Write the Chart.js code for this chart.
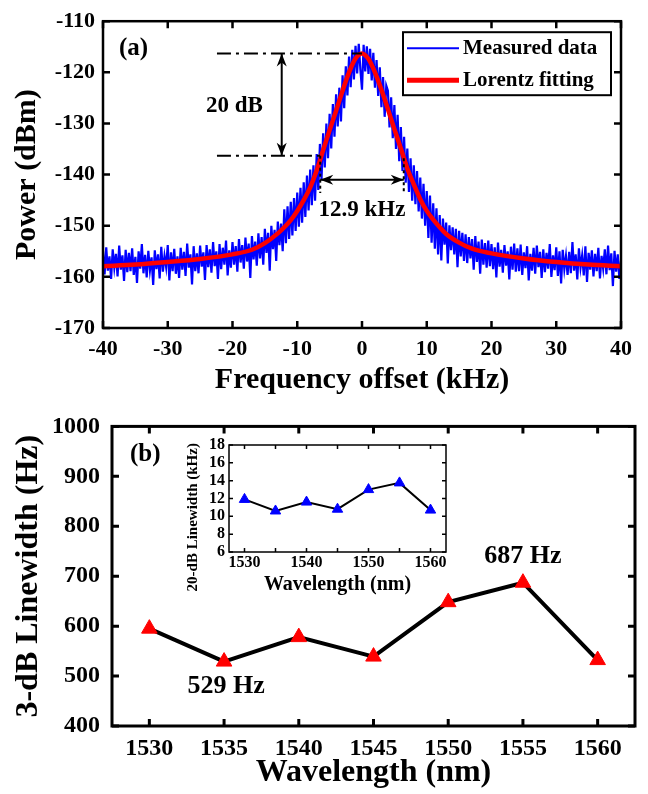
<!DOCTYPE html>
<html>
<head>
<meta charset="utf-8">
<script src="https://cdn.jsdelivr.net/npm/chart.js@4.4.0/dist/chart.umd.min.js"></script>
<style>
  html, body { margin: 0; padding: 0; background: #fff; }
  #wrap { position: relative; width: 648px; height: 794px; overflow: hidden; background: #fff; }
  canvas { position: absolute; }
  #specChart { left: 0; top: 0; }
  #lwChart { left: 0; top: 400px; }
  #insetChart { left: 170px; top: 430px; }
</style>
</head>
<body>
<div id="wrap">
  <canvas id="specChart" width="648" height="400"></canvas>
  <canvas id="lwChart" width="648" height="394"></canvas>
  <canvas id="insetChart" width="290" height="170"></canvas>
</div>
<script>
// ---- (a) beat-note spectrum ----
// measured trace, sampled every 0.25 kHz from -40 kHz (values read off the plot)
const measuredStart = -40;
const measuredStep = 0.25;
const measuredPower = [
  -155.0, -159.5, -154.2, -158.8, -156.0, -160.4, -154.6, -158.2, -155.5, -159.9, -153.9, -158.6, -155.8, -160.8, -154.7, -159.1,
  -155.3, -158.9, -154.4, -159.6, -156.1, -161.2, -155.0, -158.4, -153.6, -159.3, -155.7, -160.1, -154.9, -158.7, -156.2, -161.6,
  -154.8, -158.5, -155.6, -160.3, -154.1, -159.0, -155.9, -158.1, -153.8, -160.7, -155.2, -158.9, -154.5, -159.4, -156.0, -160.2,
  -154.3, -158.6, -155.1, -159.8, -153.5, -158.2, -155.6, -161.5, -154.0, -158.9, -155.4, -159.3, -153.9, -158.0, -155.2, -160.6,
  -153.8, -158.1, -154.6, -159.2, -153.2, -157.9, -155.0, -160.4, -153.6, -158.5, -154.3, -157.6, -152.9, -159.7, -154.8, -158.2,
  -153.2, -157.6, -154.0, -159.0, -152.6, -157.2, -153.8, -158.4, -152.3, -157.0, -153.5, -160.2, -152.0, -156.6, -153.1, -157.8,
  -151.5, -156.4, -152.2, -157.6, -150.6, -155.3, -151.4, -158.8, -150.0, -154.6, -150.8, -156.9, -149.2, -153.8, -149.6, -155.0,
  -146.8, -153.4, -146.2, -152.6, -145.3, -151.9, -144.6, -151.0, -143.5, -150.2, -142.6, -149.4, -141.5, -148.3, -140.2, -147.0,
  -139.0, -146.0, -138.2, -145.1, -136.0, -143.0, -134.0, -140.9, -131.9, -138.6, -130.0, -136.8, -128.1, -134.9, -126.2, -132.6,
  -124.3, -130.6, -123.0, -129.6, -120.6, -127.0, -118.8, -124.5, -116.9, -122.9, -115.6, -121.4, -114.8, -120.2, -114.4, -119.5,
  -123.4, -114.6, -119.8, -114.9, -120.3, -115.4, -121.6, -116.2, -123.0, -117.6, -124.6, -119.0, -126.8, -120.9, -128.7, -122.6,
  -123.6, -130.8, -124.9, -132.9, -126.4, -135.0, -128.3, -137.4, -130.7, -139.3, -132.6, -141.6, -134.9, -143.4, -136.8, -145.1,
  -138.2, -145.8, -139.3, -147.2, -140.6, -148.6, -141.8, -150.0, -143.2, -152.4, -144.1, -153.3, -145.6, -154.5, -146.6, -155.6,
  -147.9, -156.8, -148.6, -153.7, -149.4, -157.4, -149.9, -154.8, -150.3, -155.6, -150.6, -158.1, -151.0, -156.0, -151.4, -156.9,
  -151.7, -157.3, -152.2, -156.4, -152.6, -158.6, -152.0, -157.1, -153.1, -159.4, -152.7, -157.6, -153.4, -158.2, -152.9, -157.9,
  -153.6, -158.5, -154.2, -160.1, -153.3, -158.0, -154.7, -159.2, -153.8, -157.8, -155.0, -160.5, -154.1, -158.6, -153.5, -159.0,
  -154.4, -158.9, -153.7, -159.6, -155.2, -158.3, -154.0, -160.7, -155.5, -158.8, -154.3, -159.4, -153.9, -158.1, -155.1, -160.2,
  -154.6, -159.1, -155.3, -158.4, -153.6, -160.0, -155.8, -158.7, -154.2, -159.8, -155.0, -161.3, -154.7, -158.5, -155.9, -159.6,
  -155.1, -159.3, -153.2, -158.8, -155.6, -160.5, -154.4, -158.2, -155.8, -159.7, -154.0, -161.0, -155.3, -158.6, -154.8, -159.9,
  -155.5, -158.9, -154.3, -160.3, -155.9, -158.4, -154.6, -159.5, -153.9, -158.7, -155.4, -161.8, -154.9, -159.0, -155.6, -160.4,
  -156.8
];
// Lorentz fitting curve
const fitFreq = [-40, -35, -30, -25, -20, -17, -15, -13, -12, -11, -10, -9, -8, -7, -6, -5, -4, -3, -2, -1, 0,
                 1, 2, 3, 4, 5, 6, 7, 8, 9, 10, 11, 12, 13, 15, 17, 20, 25, 30, 35, 40];
const fitPower = [-157.9, -157.6, -157.1, -156.5, -155.6, -154.7, -153.4, -151.5, -150.3, -148.9, -147.1, -145.0, -142.5, -139.2, -135.2, -131.3, -127.5, -123.6, -120.0, -117.3, -116.3,
                  -117.4, -120.0, -123.4, -127.2, -131.1, -134.9, -138.8, -141.9, -144.8, -147.1, -148.8, -150.3, -151.6, -153.3, -154.5, -155.4, -156.4, -157.1, -157.6, -157.9];
// 20 dB marker
const peakLevel = -116.3;
const level20 = -136.3;
const halfWidth20 = 6.45;

// ---- (b) linewidth vs wavelength ----
const wavelengths = ['1530', '1535', '1540', '1545', '1550', '1555', '1560'];
const linewidth3dB = [595, 529, 578, 539, 648, 687, 532];
const linewidth20dB = [11.9, 10.6, 11.6, 10.8, 13.0, 13.75, 10.7];

const serif = '"Liberation Serif", "Times New Roman", serif';
Chart.defaults.font.family = serif;
Chart.defaults.font.weight = 'bold';
Chart.defaults.color = '#000';

// box around plot area + inward ticks on all four sides
const framePlugin = {
  id: 'frame',
  afterDatasetsDraw(chart, args, opts) {
    const { ctx, chartArea: a } = chart;
    const xs = chart.scales.x, ys = chart.scales.y;
    ctx.save();
    ctx.strokeStyle = '#000';
    ctx.lineWidth = opts.tickWidth;
    ctx.beginPath();
    xs.ticks.forEach((t, i) => {
      const px = xs.getPixelForTick(i);
      ctx.moveTo(px, a.bottom); ctx.lineTo(px, a.bottom - opts.tickLen);
      ctx.moveTo(px, a.top); ctx.lineTo(px, a.top + opts.tickLen);
    });
    ys.ticks.forEach((t, i) => {
      const py = ys.getPixelForTick(i);
      ctx.moveTo(a.left, py); ctx.lineTo(a.left + opts.tickLen, py);
      ctx.moveTo(a.right, py); ctx.lineTo(a.right - opts.tickLen, py);
    });
    ctx.stroke();
    ctx.lineWidth = opts.borderWidth;
    ctx.strokeRect(a.left, a.top, a.right - a.left, a.bottom - a.top);
    ctx.restore();
  }
};

function segment(ctx, x0, y0, x1, y1) {
  ctx.beginPath();
  ctx.moveTo(x0, y0);
  ctx.lineTo(x1, y1);
  ctx.stroke();
}

function arrowHead(ctx, x0, y0, x1, y1) {
  const len = 13, half = 5;
  const ang = Math.atan2(y1 - y0, x1 - x0);
  const c = Math.cos(ang), s = Math.sin(ang);
  ctx.beginPath();
  ctx.moveTo(x1, y1);
  ctx.lineTo(x1 - len * c + half * s, y1 - len * s - half * c);
  ctx.lineTo(x1 - len * 0.7 * c, y1 - len * 0.7 * s);
  ctx.lineTo(x1 - len * c - half * s, y1 - len * s + half * c);
  ctx.closePath();
  ctx.fill();
}

function doubleArrow(ctx, x0, y0, x1, y1) {
  segment(ctx, x0, y0, x1, y1);
  arrowHead(ctx, x0, y0, x1, y1);
  arrowHead(ctx, x1, y1, x0, y0);
}

// annotations and legend of panel (a)
const specNotes = {
  id: 'specNotes',
  afterDatasetsDraw(chart) {
    const { ctx, chartArea: a } = chart;
    const x = v => chart.scales.x.getPixelForValue(v);
    const y = v => chart.scales.y.getPixelForValue(v);
    ctx.save();
    ctx.strokeStyle = '#000';
    ctx.fillStyle = '#000';
    ctx.lineWidth = 2;

    ctx.setLineDash([14, 5, 3, 5]);
    segment(ctx, x(-22.4), y(peakLevel), x(0), y(peakLevel));
    segment(ctx, x(-22.4), y(level20), x(-halfWidth20), y(level20));
    ctx.setLineDash([3, 3]);
    segment(ctx, x(-halfWidth20), y(level20), x(-halfWidth20), y(-143.6));
    segment(ctx, x(halfWidth20), y(level20 - 0.5), x(halfWidth20), y(-143.6));
    ctx.setLineDash([]);

    doubleArrow(ctx, x(-12.4), y(peakLevel), x(-12.4), y(level20));
    doubleArrow(ctx, x(-halfWidth20), y(-141), x(halfWidth20), y(-141));

    ctx.textAlign = 'center';
    ctx.textBaseline = 'middle';
    ctx.font = 'bold 23px ' + serif;
    ctx.fillText('20 dB', x(-19.7), y(-126.6));
    ctx.fillText('12.9 kHz', x(0), y(-146.9));
    ctx.font = 'bold 25px ' + serif;
    ctx.textAlign = 'left';
    ctx.fillText('(a)', a.left + 16, a.top + 27);

    // legend box
    const bx = a.right - 218, by = a.top + 11, bw = 208, bh = 63;
    ctx.fillStyle = '#fff';
    ctx.fillRect(bx, by, bw, bh);
    ctx.lineWidth = 2;
    ctx.strokeRect(bx, by, bw, bh);
    ctx.lineWidth = 2;
    ctx.strokeStyle = '#0000ff';
    segment(ctx, bx + 4, by + 16, bx + 56, by + 16);
    ctx.lineWidth = 5;
    ctx.strokeStyle = '#ff0000';
    segment(ctx, bx + 4, by + 48, bx + 56, by + 48);
    ctx.fillStyle = '#000';
    ctx.font = 'bold 21px ' + serif;
    ctx.fillText('Measured data', bx + 60, by + 16);
    ctx.fillText('Lorentz fitting', bx + 60, by + 48);
    ctx.restore();
  }
};

// value labels of panel (b)
const lwNotes = {
  id: 'lwNotes',
  afterDatasetsDraw(chart) {
    const { ctx, chartArea: a } = chart;
    const pts = chart.getDatasetMeta(0).data;
    const iMin = linewidth3dB.indexOf(Math.min(...linewidth3dB));
    const iMax = linewidth3dB.indexOf(Math.max(...linewidth3dB));
    ctx.save();
    ctx.fillStyle = '#000';
    ctx.textAlign = 'center';
    ctx.textBaseline = 'middle';
    ctx.font = 'bold 26px ' + serif;
    ctx.fillText(linewidth3dB[iMin] + ' Hz', pts[iMin].x + 2, pts[iMin].y + 25);
    ctx.fillText(linewidth3dB[iMax] + ' Hz', pts[iMax].x, pts[iMax].y - 26);
    ctx.font = 'bold 25px ' + serif;
    ctx.textAlign = 'left';
    ctx.fillText('(b)', a.left + 18, a.top + 28);
    ctx.restore();
  }
};

const measuredPoints = measuredPower.map((p, i) => ({ x: measuredStart + i * measuredStep, y: p }));
const fitPoints = fitFreq.map((f, i) => ({ x: f, y: fitPower[i] }));

new Chart(document.getElementById('specChart'), {
  type: 'line',
  data: {
    datasets: [
      {
        label: 'Lorentz fitting',
        data: fitPoints,
        borderColor: '#ff0000',
        borderWidth: 4.5,
        pointRadius: 0,
        cubicInterpolationMode: 'monotone',
        order: 0
      },
      {
        label: 'Measured data',
        data: measuredPoints,
        borderColor: '#0000ff',
        borderWidth: 2.2,
        pointRadius: 0,
        tension: 0,
        order: 1
      }
    ]
  },
  options: {
    responsive: false,
    animation: false,
    devicePixelRatio: 1,
    layout: { padding: { top: 18, right: 27, left: 0, bottom: 0 } },
    plugins: {
      legend: { display: false },
      tooltip: { enabled: false },
      frame: { tickLen: 7, tickWidth: 2.5, borderWidth: 2.5 }
    },
    scales: {
      x: {
        type: 'linear',
        min: -40,
        max: 40,
        grid: { display: false, drawTicks: false },
        border: { display: false },
        ticks: { stepSize: 10, padding: 8, font: { size: 22 }, maxRotation: 0 },
        title: { display: true, text: 'Frequency offset (kHz)', font: { size: 30 }, padding: { bottom: 2 } },
        afterFit: s => { s.height = 72; }
      },
      y: {
        min: -170,
        max: -110,
        grid: { display: false, drawTicks: false },
        border: { display: false },
        ticks: { stepSize: 10, padding: 8, font: { size: 22 } },
        title: { display: true, text: 'Power (dBm)', font: { size: 30 }, padding: { top: 9 } },
        afterFit: s => { s.width = 103; }
      }
    }
  },
  plugins: [framePlugin, specNotes]
});

new Chart(document.getElementById('lwChart'), {
  type: 'line',
  data: {
    labels: wavelengths,
    datasets: [{
      label: '3-dB linewidth',
      data: linewidth3dB,
      borderColor: '#000',
      borderWidth: 4,
      tension: 0,
      pointStyle: 'triangle',
      pointRadius: 9,
      pointBackgroundColor: '#ff0000',
      pointBorderColor: '#ff0000',
      pointBorderWidth: 1
    }]
  },
  options: {
    responsive: false,
    animation: false,
    devicePixelRatio: 1,
    layout: { padding: { top: 20, right: 13, left: 0, bottom: 0 } },
    plugins: {
      legend: { display: false },
      tooltip: { enabled: false },
      frame: { tickLen: 7, tickWidth: 3, borderWidth: 3 }
    },
    scales: {
      x: {
        type: 'category',
        offset: true,
        grid: { display: false, drawTicks: false, offset: true },
        border: { display: false },
        ticks: { padding: 8, font: { size: 24 }, maxRotation: 0, autoSkip: false },
        title: { display: true, text: 'Wavelength (nm)', font: { size: 32 }, padding: { bottom: 2 } },
        afterFit: s => { s.height = 68; }
      },
      y: {
        min: 400,
        max: 1000,
        grid: { display: false, drawTicks: false },
        border: { display: false },
        ticks: { stepSize: 100, padding: 12, font: { size: 24 }, callback: v => String(v) },
        title: { display: true, text: '3-dB Linewidth (Hz)', font: { size: 32 }, padding: { top: 10 } },
        afterFit: s => { s.width = 112; }
      }
    }
  },
  plugins: [framePlugin, lwNotes]
});

new Chart(document.getElementById('insetChart'), {
  type: 'line',
  data: {
    labels: wavelengths,
    datasets: [{
      label: '20-dB linewidth',
      data: linewidth20dB,
      borderColor: '#000',
      borderWidth: 2,
      tension: 0,
      pointStyle: 'triangle',
      pointRadius: 6,
      pointBackgroundColor: '#0000ff',
      pointBorderColor: '#0000ff',
      pointBorderWidth: 1
    }]
  },
  options: {
    responsive: false,
    animation: false,
    devicePixelRatio: 1,
    layout: { padding: { top: 15, right: 14, left: 0, bottom: 0 } },
    plugins: {
      legend: { display: false },
      tooltip: { enabled: false },
      frame: { tickLen: 4, tickWidth: 1.5, borderWidth: 1.5 }
    },
    scales: {
      x: {
        type: 'category',
        offset: true,
        grid: { display: false, drawTicks: false, offset: true },
        border: { display: false },
        ticks: {
          padding: 1,
          font: { size: 16 },
          maxRotation: 0,
          autoSkip: false,
          callback: (v, i) => (i % 2 === 0 ? wavelengths[i] : '')
        },
        title: { display: true, text: 'Wavelength (nm)', font: { size: 20 }, padding: { bottom: 3 } },
        afterFit: s => { s.height = 48; }
      },
      y: {
        min: 6,
        max: 18,
        grid: { display: false, drawTicks: false },
        border: { display: false },
        ticks: { stepSize: 2, padding: 4, font: { size: 16 }, autoSkip: false },
        title: {
          display: true,
          text: '20-dB Linewidth (kHz)' + '\u00a0'.repeat(10),
          font: { size: 15 },
          padding: { top: 14 }
        },
        afterFit: s => { s.width = 59; }
      }
    }
  },
  plugins: [framePlugin]
});
</script>
</body>
</html>
